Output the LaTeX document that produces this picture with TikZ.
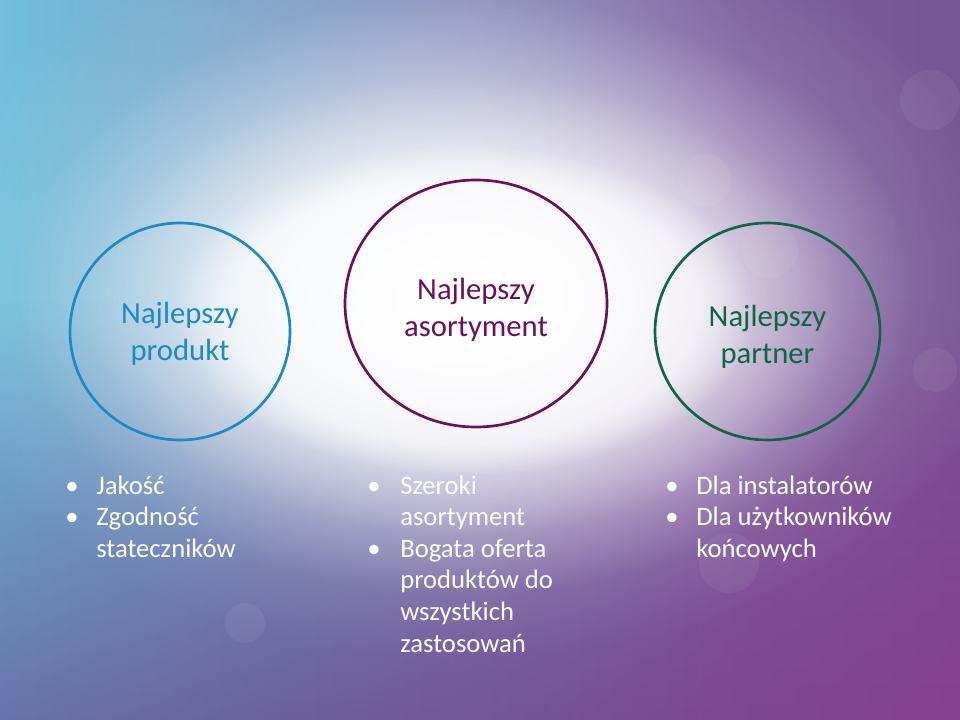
\documentclass[tikz,border=0pt]{standalone}
\usepackage{fontspec}
\setmainfont{Carlito}
\usepackage{xcolor}
\usepackage{tikz}
\usetikzlibrary{shapes.geometric}
\usetikzlibrary{fadings}
\usetikzlibrary{positioning}

\definecolor{bluering}{HTML}{1B8AC6}
\definecolor{plumring}{HTML}{6E0F5C}
\definecolor{greenring}{HTML}{0F654A}
\definecolor{ta}{HTML}{72D2E6}
\definecolor{tb}{HTML}{70C2DE}
\definecolor{tc}{HTML}{7AA2C8}
\definecolor{td}{HTML}{8488B8}
\definecolor{te}{HTML}{7C5E9E}
\definecolor{tf}{HTML}{6C3F7C}
\definecolor{ba}{HTML}{6692C6}
\definecolor{bb}{HTML}{6679B2}
\definecolor{bc}{HTML}{6B609C}
\definecolor{bd}{HTML}{7C4894}
\definecolor{be}{HTML}{8C3890}
\definecolor{bf}{HTML}{82307E}

\pgfdeclarehorizontalshading{bgtop}{100bp}{color(0bp)=(ta); color(24bp)=(tb); color(38bp)=(tc); color(50bp)=(td); color(64bp)=(te); color(100bp)=(tf)}
\pgfdeclarehorizontalshading{bgbot}{100bp}{color(0bp)=(ba); color(20bp)=(bb); color(40bp)=(bc); color(62bp)=(bd); color(82bp)=(be); color(100bp)=(bf)}
\tikzfading[name=glow, inner color=transparent!0, outer color=transparent!100]
\tikzfading[name=fadeup, bottom color=transparent!0, top color=transparent!100]

\tikzstyle{ring}=[ellipse,draw,line width=2pt,inner sep=0pt]
\tikzstyle{ringtext}=[align=center,inner sep=0pt,font=\fontsize{23}{27.5}\selectfont]
\tikzstyle{listtext}=[anchor=base west,inner sep=0pt,text=white,font=\fontsize{20}{24}\selectfont]
\tikzstyle{listdot}=[anchor=base,inner sep=0pt,text=white,font=\fontsize{20}{24}\selectfont]

\begin{document}
\begin{tikzpicture}[x=0.75pt,y=0.75pt]

 \useasboundingbox (0,0) rectangle (960,-720);

 %Background
 \shade[shading=bgtop] (0,0) rectangle (960,-720);
 \shade[shading=bgbot, path fading=fadeup] (0,-300) rectangle (960,-720);
 \fill[white, path fading=glow, opacity=0.45] (465,-280) ellipse (560 and 380);
 \fill[white, path fading=glow] (465,-295) ellipse (450 and 300);
 \fill[white, path fading=glow] (465,-305) ellipse (380 and 230);
 \fill[white, path fading=circle with fuzzy edge 20 percent, opacity=0.6] (465,-310) ellipse (290 and 165);

 \foreach \x/\y/\r in {930/-100/30, 935/-370/22, 770/-250/28, 245/-623/20, 729/-563/30, 705/-180/26}
        \fill[white, opacity=0.06] (\x,\y) circle (\r);

 %Rings
 \node[ring, draw=bluering, minimum width=165pt, minimum height=162.75pt] (prod) at (180,-331.5) {};
 \node[ring, draw=plumring, minimum width=196.5pt, minimum height=185.25pt] (asort) at (476,-303.5) {};
 \node[ring, draw=greenring, minimum width=168.75pt, minimum height=162.75pt] (part) at (767.5,-331.5) {};

 \node[ringtext, text=bluering] (prodtext) at (180,-334) {Najlepszy\\produkt};
 \node[ringtext, text=plumring] (asorttext) at (476,-310) {Najlepszy\\asortyment};
 \node[ringtext, text=greenring] (parttext) at (767.5,-337) {Najlepszy\\partner};

 %Lists
 \foreach \x/\y/\name/\label in {96/494/jak/Jakość, 96/525.7/zgo/Zgodność, 96/557.4/sta/stateczników}
        \node[listtext] (\name) at (\x,-\y) {\label};

 \foreach \x/\y/\name/\label in {400/494/sze/Szeroki, 400/525.6/aso/asortyment, 400/557.2/bog/Bogata oferta,
        400/588.8/pro/produktów do, 400/620.4/wsz/wszystkich, 400/652/zas/zastosowań}
        \node[listtext] (\name) at (\x,-\y) {\label};

 \foreach \x/\y/\name/\label in {696/494/ins/Dla instalatorów, 696/525.7/uzy/Dla użytkowników, 696/557.4/kon/końcowych}
        \node[listtext] (\name) at (\x,-\y) {\label};

 \foreach \x/\y/\name in {72/494/dotjak, 72/525.7/dotzgo, 374/494/dotsze, 374/557.2/dotbog, 672/494/dotins, 672/525.7/dotuzy}
        \node[listdot] (\name) at (\x,-\y) {•};

\end{tikzpicture}
\end{document}
